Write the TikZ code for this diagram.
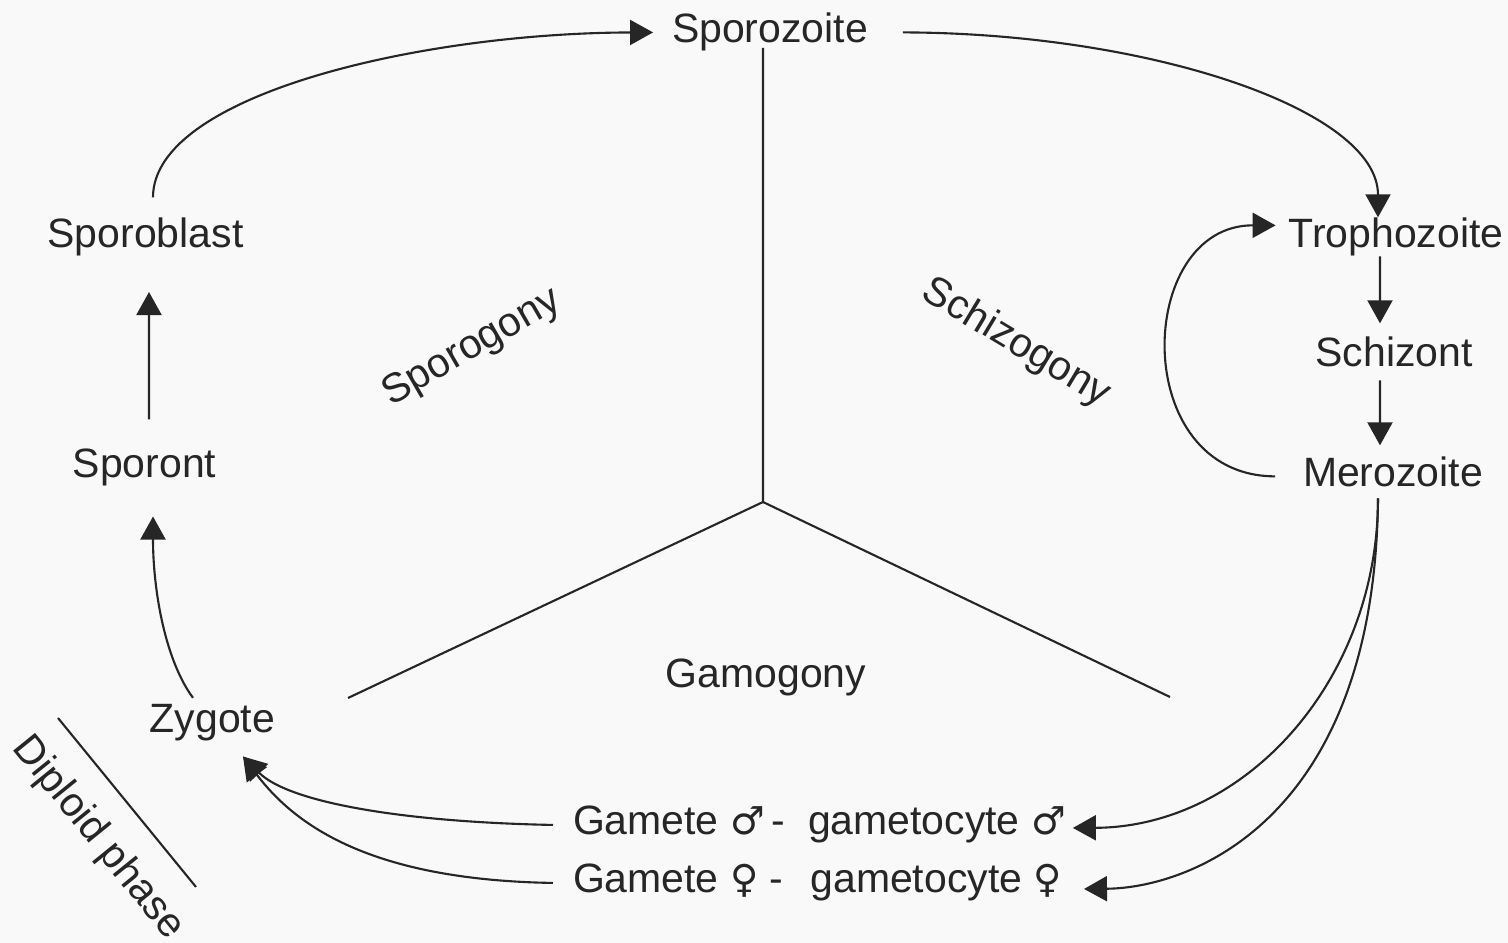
\documentclass[tikz,border=0pt]{standalone}
\usepackage{fontspec}
\setmainfont{Liberation Sans}
\newfontfamily\gendersymfont{DejaVu Sans}
\newcommand{\gsym}[1]{{\gendersymfont\fontsize{11}{14}\selectfont #1}}
\usetikzlibrary{arrows.meta}
\definecolor{ink}{HTML}{262626}
\definecolor{paper}{HTML}{F9F9F9}
\begin{document}
\begin{tikzpicture}[x=0.01cm,y=-0.01cm,
  lbl/.style={inner sep=0pt,outer sep=0pt,anchor=base,text=ink,
              font=\fontsize{11.65}{14}\selectfont},
  phase/.style={lbl,anchor=center},
  link/.style={draw=ink,line width=0.6pt},
  arr/.style={link,-{Triangle[length=0.23cm,width=0.25cm]}},
]
\fill[paper] (0,0) rectangle (1508,943);
\useasboundingbox (0,0) rectangle (1508,943);

% life-cycle stages
\node[lbl] (spz) at (770,43)  {Sporozoite};
\node[lbl] (spb) at (145.5,248) {Sporoblast};
\node[lbl] (spt) at (144.5,478) {Sporont};
\node[lbl] (zyg) at (212.5,733) {Zygote};
\node[lbl] (tro) at (1396,248) {Trophozoite};
\node[lbl] (sch) at (1394,367) {Schizont};
\node[lbl] (mer) at (1393,487) {Merozoite};
\node[lbl,anchor=base west] (gm) at (573,835)
  {Gamete \gsym{♂}\,-~ gametocyte \gsym{♂}};
\node[lbl,anchor=base west] (gf) at (573,893)
  {Gamete \gsym{♀} -\hspace{0.27cm}gametocyte \gsym{♀}};

% phase names
\node[phase,rotate=30]  (sporog) at (472,348)  {Sporogony};
\node[phase,rotate=-31] (schizog) at (1016,343) {Schizogony};
\node[lbl] (gamog) at (766,688) {Gamogony};
\node[phase,rotate=-51] (diplo) at (98,838) {Diploid phase};

% the three-way division of the cycle
\coordinate (ytop) at (763,48);
\coordinate (yc)   at (763,502);
\coordinate (yl)   at (348,698);
\coordinate (yr)   at (1170,697);
\draw[link] (ytop) -- (yc) -- (yl);
\draw[link] (yc) -- (yr);

% diploid phase bar
\coordinate (d1) at (58,718);
\coordinate (d2) at (196,887);
\draw[link] (d1) -- (d2);

% sporogony
\draw[arr] ([xshift=0.075cm,yshift=0.21cm]spb.north)
  .. controls (153,95) and (420,33) .. ([xshift=-0.19cm]spz.west);
\draw[arr] ([xshift=0.045cm,yshift=0.30cm]spt.north) -- ([xshift=0.035cm,yshift=-0.355cm]spb.south);
\draw[arr] ([xshift=-0.195cm,yshift=0.07cm]zyg.north)
  .. controls (165,660) and (153,590) .. ([xshift=0.085cm,yshift=-0.30cm]spt.south);

% schizogony
\draw[arr] ([xshift=0.35cm]spz.east)
  .. controls (1150,33) and (1378,110) .. ([xshift=-0.18cm,yshift=0.01cm]tro.north);
\draw[arr] ([xshift=-0.16cm]tro.south) -- ([xshift=-0.14cm,yshift=0.14cm]sch.north);
\draw[arr] ([xshift=-0.14cm,yshift=-0.13cm]sch.south) -- ([xshift=-0.13cm,yshift=0.12cm]mer.north);
\draw[arr] ([xshift=-0.28cm,yshift=-0.04cm]mer.west)
  .. controls (1128,476) and (1135,225) .. ([xshift=-0.13cm,yshift=0.12cm]tro.west);

% gamogony
\draw[arr] ([xshift=-0.15cm,yshift=-0.11cm]mer.south)
  .. controls (1378,680) and (1246,827) .. ([xshift=0.07cm,yshift=-0.03cm]gm.east);
\draw[arr] ([xshift=-0.15cm,yshift=-0.11cm]mer.south)
  .. controls (1375,820) and (1190,888) .. ([xshift=0.22cm,yshift=-0.06cm]gf.east);
\draw[arr] ([xshift=-0.2cm]gm.west)
  .. controls (400,822) and (288,802) .. ([xshift=0.305cm,yshift=-0.15cm]zyg.south);
\draw[arr] ([xshift=-0.2cm]gf.west)
  .. controls (370,880) and (295,825) .. ([xshift=0.305cm,yshift=-0.15cm]zyg.south);
\end{tikzpicture}
\end{document}
